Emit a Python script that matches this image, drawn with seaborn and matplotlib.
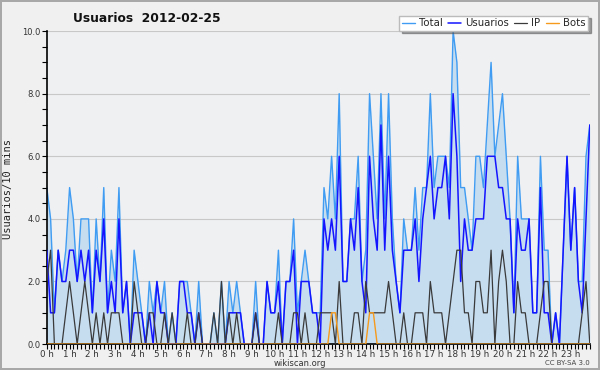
import matplotlib
matplotlib.use('Agg')
import matplotlib.pyplot as plt
import seaborn as sns
from matplotlib.ticker import MultipleLocator

# one value per 10 minutes, 6 per hour (one row = one hour)
total = [5, 4, 1, 3, 2, 3,  5, 4, 2, 4, 4, 4,  1, 4, 2, 5, 1, 3,  2, 5, 1, 2, 0, 3,
         2, 1, 0, 2, 1, 2,  1, 2, 0, 1, 0, 2,  2, 2, 1, 0, 2, 0,  0, 0, 1, 0, 2, 0,
         2, 1, 2, 1, 0, 0,  0, 2, 0, 0, 2, 1,  1, 3, 0, 2, 2, 4,  1, 2, 3, 2, 1, 1,
         1, 5, 4, 6, 4, 8,  2, 2, 4, 4, 6, 2,  3, 8, 6, 4, 8, 4,  8, 4, 2, 1, 4, 3,
         3, 5, 3, 5, 5, 8,  5, 6, 6, 6, 5, 10, 9, 5, 5, 4, 3, 6,  6, 5, 7, 9, 6, 7,
         8, 6, 4, 1, 6, 4,  4, 4, 1, 1, 6, 3,  3, 0, 1, 0, 3, 6,  3, 5, 2, 2, 6, 7]
usuarios = [3, 1, 1, 3, 2, 2,  3, 3, 2, 3, 2, 3,  1, 3, 2, 4, 1, 2,  1, 4, 1, 2, 0, 1,
            1, 1, 0, 1, 0, 2,  1, 1, 0, 0, 0, 2,  2, 1, 1, 0, 1, 0,  0, 0, 0, 0, 0, 0,
            1, 1, 1, 1, 0, 0,  0, 1, 0, 0, 2, 1,  1, 2, 0, 2, 2, 3,  0, 2, 2, 2, 1, 1,
            0, 4, 3, 4, 3, 6,  2, 2, 4, 3, 5, 2,  1, 6, 4, 3, 7, 3,  6, 3, 2, 1, 3, 3,
            3, 4, 2, 4, 5, 6,  4, 5, 5, 6, 4, 8,  6, 2, 4, 3, 3, 4,  4, 4, 6, 6, 6, 5,
            5, 4, 4, 1, 4, 3,  3, 4, 1, 1, 5, 1,  1, 0, 1, 0, 3, 6,  3, 5, 2, 1, 4, 7]
ip = [2, 3, 0, 0, 0, 1,  2, 1, 0, 1, 2, 1,  0, 1, 0, 1, 0, 1,  1, 1, 0, 0, 0, 2,
      1, 0, 0, 1, 1, 0,  0, 1, 0, 1, 0, 0,  0, 1, 0, 0, 1, 0,  0, 0, 1, 0, 2, 0,
      1, 0, 1, 0, 0, 0,  0, 1, 0, 0, 0, 0,  0, 1, 0, 0, 0, 1,  1, 0, 1, 0, 0, 0,
      1, 1, 1, 1, 0, 2,  0, 0, 0, 1, 1, 0,  2, 1, 1, 1, 1, 1,  2, 1, 0, 0, 1, 0,
      0, 1, 1, 1, 0, 2,  1, 1, 1, 0, 1, 2,  3, 3, 1, 1, 0, 2,  2, 1, 1, 3, 0, 2,
      3, 2, 0, 0, 2, 1,  1, 0, 0, 0, 1, 2,  2, 0, 0, 0, 0, 0,  0, 0, 0, 1, 2, 0]
bots = [0, 0, 0, 0, 0, 0,  0, 0, 0, 0, 0, 0,  0, 0, 0, 0, 0, 0,  0, 0, 0, 0, 0, 0,
        0, 0, 0, 0, 0, 0,  0, 0, 0, 0, 0, 0,  0, 0, 0, 0, 0, 0,  0, 0, 0, 0, 0, 0,
        0, 0, 0, 0, 0, 0,  0, 0, 0, 0, 0, 0,  0, 0, 0, 0, 0, 0,  0, 0, 0, 0, 0, 0,
        0, 0, 0, 1, 1, 0,  0, 0, 0, 0, 0, 0,  0, 1, 1, 0, 0, 0,  0, 0, 0, 0, 0, 0,
        0, 0, 0, 0, 0, 0,  0, 0, 0, 0, 0, 0,  0, 0, 0, 0, 0, 0,  0, 0, 0, 0, 0, 0,
        0, 0, 0, 0, 0, 0,  0, 0, 0, 0, 0, 0,  0, 0, 0, 0, 0, 0,  0, 0, 0, 0, 0, 0]
hour_labels = ['%d h' % h for h in range(24)]
slots = list(range(len(total)))

sns.set_style('white')
plt.rcParams['font.family'] = ['DejaVu Sans']

fig = plt.figure(figsize=(6, 3.7), dpi=100)
fig.patch.set_facecolor('#f0f0f0')
fig.patch.set_edgecolor('#a8a8a8')
fig.patch.set_linewidth(1.5)
ax = fig.add_axes([0.078, 0.07, 0.905, 0.846])
ax.set_facecolor('#eef0f2')

ax.fill_between(slots, total, color='#c6ddf0', lw=0, zorder=1)
sns.lineplot(x=slots, y=total, ax=ax, color='#3f9cf2', lw=1.0, label='Total', zorder=2)
sns.lineplot(x=slots, y=usuarios, ax=ax, color='#1414ff', lw=1.1, label='Usuarios', zorder=3)
sns.lineplot(x=slots, y=ip, ax=ax, color='#3a3a3a', lw=0.9, label='IP', zorder=4)
sns.lineplot(x=slots, y=bots, ax=ax, color='#f59a1c', lw=1.0, label='Bots', zorder=5)

ax.set_xlim(0, 143)
ax.set_ylim(0, 10)
ax.set_xlabel('')
ax.set_ylabel('')

ax.yaxis.set_minor_locator(MultipleLocator(0.5))
ax.set_yticks(range(0, 11, 2))
ax.set_yticklabels(['%.1f' % v for v in range(0, 11, 2)], fontsize=6, color='#333333')
ax.set_xticks(range(0, 144, 6))
ax.set_xticklabels(hour_labels, fontsize=6.3, color='#333333')
ax.xaxis.set_minor_locator(MultipleLocator(1))
ax.tick_params(axis='both', which='both', direction='out', length=3.5, width=0.8,
               color='black', left=True, bottom=True)
ax.tick_params(axis='x', which='major', pad=0.5)
ax.tick_params(axis='y', which='major', pad=1)
ax.grid(axis='y', which='major', color='#c8c8c8', lw=0.8, zorder=0)
ax.set_axisbelow(True)

for side in ['top', 'right']:
    ax.spines[side].set_visible(False)
for side in ['left', 'bottom']:
    ax.spines[side].set_color('black')
    ax.spines[side].set_linewidth(1.2)

leg = ax.legend(loc='upper right', bbox_to_anchor=(0.98, 0.958), bbox_transform=fig.transFigure,
                ncol=4, fontsize=7.3, frameon=True, fancybox=False, shadow=True,
                handlelength=1.3, handletextpad=0.4, columnspacing=0.5,
                borderpad=0.25, borderaxespad=0)
leg.get_frame().set_edgecolor('#bbbbbb')
leg.get_frame().set_facecolor('white')

fig.text(0.245, 0.951, 'Usuarios  2012-02-25', fontsize=8.8, fontweight='bold',
         ha='center', va='center', color='#111111')
fig.text(0.014, 0.49, 'Usuarios/10 mins', family='DejaVu Sans Mono', fontsize=7.5,
         rotation=90, ha='center', va='center', color='#222222')
fig.text(0.5, 0.018, 'wikiscan.org', fontsize=6, ha='center', va='center', color='#333333')
fig.text(0.983, 0.018, 'CC BY-SA 3.0', fontsize=5, ha='right', va='center', color='#444444')

fig.savefig('out.png', dpi=100, facecolor=fig.get_facecolor(), edgecolor=fig.get_edgecolor())
